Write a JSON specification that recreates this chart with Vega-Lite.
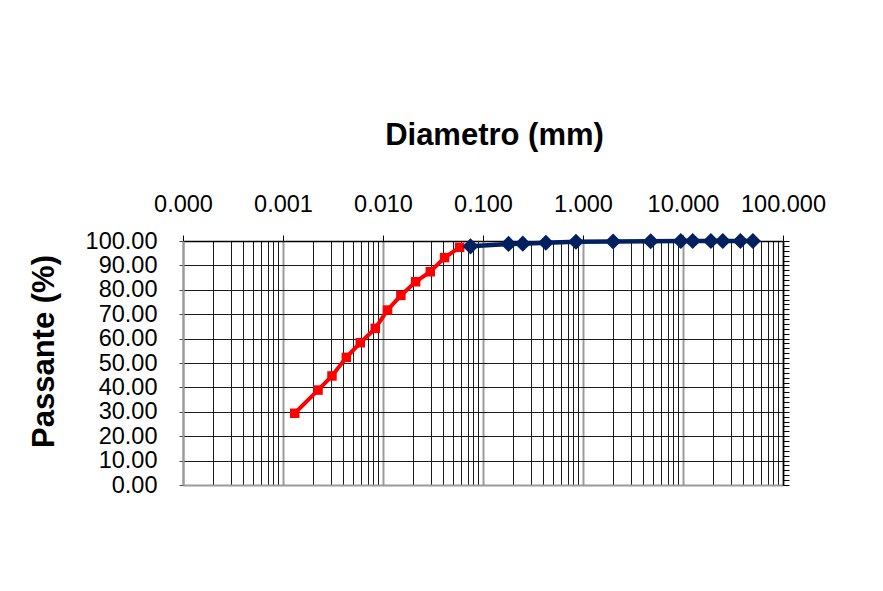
{
  "$schema": "https://vega.github.io/schema/vega-lite/v6.json",
  "width": 600,
  "height": 244,
  "autosize": {"type": "none"},
  "padding": {"left": 183, "top": 241, "right": 100, "bottom": 106},
  "background": "white",
  "config": {"font": "Liberation Sans", "view": {"stroke": null}},
  "datasets": {
    "fino": [
      {"d": 0.00131, "p": 29.4},
      {"d": 0.00224, "p": 38.9},
      {"d": 0.00309, "p": 44.7},
      {"d": 0.0043, "p": 52.3},
      {"d": 0.00593, "p": 58.3},
      {"d": 0.00837, "p": 64.2},
      {"d": 0.0111, "p": 71.7},
      {"d": 0.0151, "p": 77.7},
      {"d": 0.0212, "p": 83.3},
      {"d": 0.0297, "p": 87.4},
      {"d": 0.0413, "p": 93.2},
      {"d": 0.0584, "p": 97.4}
    ],
    "grosso": [
      {"d": 0.075, "p": 97.8},
      {"d": 0.18, "p": 98.8},
      {"d": 0.25, "p": 98.9},
      {"d": 0.425, "p": 99.3},
      {"d": 0.85, "p": 99.7},
      {"d": 2.0, "p": 99.8},
      {"d": 4.75, "p": 99.9},
      {"d": 9.5, "p": 100},
      {"d": 12.5, "p": 100},
      {"d": 19, "p": 100},
      {"d": 25, "p": 100},
      {"d": 37.5, "p": 100},
      {"d": 50, "p": 100}
    ]
  },
  "layer": [
    {
      "data": {"name": "fino"},
      "mark": {"type": "line", "color": "#FF0000", "strokeWidth": 4, "point": {"shape": "square", "size": 90, "filled": true, "color": "#FF0000", "opacity": 1}},
      "encoding": {
        "x": {
          "field": "d", "type": "quantitative",
          "scale": {"type": "log", "domain": [0.0001, 100], "nice": false},
          "axis": {
            "orient": "top",
            "title": "Diametro (mm)",
            "titleFontSize": 31, "titleFontWeight": "bold", "titleColor": "#000000",
            "titlePadding": 41, "titleX": 311,
            "values": [0.0001,0.0002,0.0003,0.0004,0.0005,0.0006,0.0007,0.0008,0.0009,0.001,0.002,0.003,0.004,0.005,0.006,0.007,0.008,0.009,0.01,0.02,0.03,0.04,0.05,0.06,0.07,0.08,0.09,0.1,0.2,0.3,0.4,0.5,0.6,0.7,0.8,0.9,1,2,3,4,5,6,7,8,9,10,20,30,40,50,60,70,80,90,100],
            "labelExpr": "indexof([0.0001,0.001,0.01,0.1,1,10,100], datum.value) >= 0 ? format(datum.value, '.3f') : ''",
            "labelOverlap": false, "labelBound": false, "labelFlush": false,
            "labelFontSize": 23.5, "labelColor": "#000000", "labelPadding": 19,
            "grid": true,
            "gridColor": {"condition": {"test": "indexof([0.0001,0.001,0.01,0.1,1,10,100], datum.value) >= 0", "value": "#9a9a9a"}, "value": "#1a1a1a"},
            "gridWidth": {"condition": {"test": "indexof([0.0001,0.001,0.01,0.1,1,10,100], datum.value) >= 0", "value": 2}, "value": 1},
            "ticks": true, "tickSize": 6, "tickColor": "#000000",
            "tickOpacity": {"condition": {"test": "indexof([0.0001,0.001,0.01,0.1,1,10,100], datum.value) >= 0", "value": 1}, "value": 0},
            "domainColor": "#000000", "domainWidth": 1.5
          }
        },
        "y": {
          "field": "p", "type": "quantitative",
          "scale": {"domain": [0, 100], "nice": false},
          "axis": {
            "orient": "left",
            "title": "Passante (%)",
            "titleFontSize": 31, "titleFontWeight": "bold", "titleColor": "#000000",
            "titlePadding": 25, "titleY": 110,
            "values": [0,10,20,30,40,50,60,70,80,90,100],
            "format": ".2f",
            "labelFontSize": 23.5, "labelColor": "#000000", "labelPadding": 22,
            "labelOverlap": false, "labelBound": false, "labelFlush": false,
            "grid": true, "gridColor": "#1a1a1a", "gridWidth": 1,
            "tickSize": 4, "tickColor": "#444444",
            "domainColor": "#9a9a9a", "domainWidth": 2
          }
        }
      }
    },
    {
      "data": {"name": "grosso"},
      "mark": {"type": "line", "color": "#002060", "strokeWidth": 4.5, "point": {"shape": "diamond", "size": 260, "filled": true, "color": "#002060", "opacity": 1}},
      "encoding": {
        "x": {
          "field": "d", "type": "quantitative",
          "axis": {"orient": "bottom", "title": null, "labels": false, "ticks": false, "grid": false, "domainColor": "#9a9a9a", "domainWidth": 2}
        },
        "y": {
          "field": "p", "type": "quantitative",
          "axis": {
            "orient": "right", "title": null, "labels": false, "grid": false,
            "values": [0,2,4,6,8,10,12,14,16,18,20,22,24,26,28,30,32,34,36,38,40,42,44,46,48,50,52,54,56,58,60,62,64,66,68,70,72,74,76,78,80,82,84,86,88,90,92,94,96,98,100],
            "tickSize": 6, "tickColor": "#000000", "domainColor": "#000000", "domainWidth": 1.5
          }
        }
      }
    }
  ],
  "resolve": {"axis": {"x": "independent", "y": "independent"}}
}
